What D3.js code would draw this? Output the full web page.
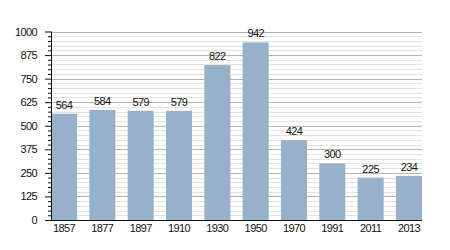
<!DOCTYPE html>
<html>
<head>
<meta charset="utf-8">
<script src="https://cdn.jsdelivr.net/npm/d3@7"></script>
<style>
  body { margin: 0; background: #fff; }
  text { font-family: "Liberation Sans", Arial, sans-serif; font-size: 11px; letter-spacing: -0.6px; fill: #111; }
</style>
</head>
<body>
<svg width="450" height="250"></svg>
<script>
const years = ['1857', '1877', '1897', '1910', '1930', '1950', '1970', '1991', '2011', '2013'];
const population = [564, 584, 579, 579, 822, 942, 424, 300, 225, 234];
const yTicks = [0, 125, 250, 375, 500, 625, 750, 875, 1000];

const svg = d3.select('svg');

const plotLeft = 51;
const plotRight = 422;
const plotTop = 31.5;
const plotBottom = 220;

const xScale = d3.scaleBand()
  .range([plotLeft, plotRight])
  .domain(years)
  .paddingInner(0.32)
  .paddingOuter(0);

const yScale = d3.scaleLinear()
  .range([plotBottom, plotTop])
  .domain([0, 1000]);

const minorTicks = d3.range(0, 1001, 25);

// minor grid
svg.append('g')
  .selectAll('line')
  .data(minorTicks.filter(d => d % 125 !== 0))
  .enter()
  .append('line')
  .attr('x1', plotLeft)
  .attr('x2', plotRight)
  .attr('y1', d => Math.round(yScale(d)) + 0.5)
  .attr('y2', d => Math.round(yScale(d)) + 0.5)
  .attr('stroke', '#e6e2e2')
  .attr('stroke-width', 1);

// major grid
svg.append('g')
  .selectAll('line')
  .data(yTicks.filter(d => d > 0))
  .enter()
  .append('line')
  .attr('x1', plotLeft)
  .attr('x2', plotRight)
  .attr('y1', d => Math.round(yScale(d)) + 0.5)
  .attr('y2', d => Math.round(yScale(d)) + 0.5)
  .attr('stroke', '#b4b4b4')
  .attr('stroke-width', 1);

// bars
const bars = svg.append('g')
  .selectAll('g')
  .data(years.map((y, i) => ({ year: y, value: population[i] })))
  .enter()
  .append('g');

bars.append('rect')
  .attr('x', d => xScale(d.year))
  .attr('y', d => yScale(d.value))
  .attr('width', xScale.bandwidth())
  .attr('height', d => plotBottom - yScale(d.value))
  .attr('fill', '#98b1ca');

bars.append('text')
  .attr('x', d => xScale(d.year) + xScale.bandwidth() / 2)
  .attr('y', d => yScale(d.value) - 5)
  .attr('text-anchor', 'middle')
  .text(d => d.value);

// y axis
const yAxis = svg.append('g')
  .attr('transform', `translate(${plotLeft}, 0)`)
  .call(d3.axisLeft(yScale).tickValues(minorTicks).tickSize(3).tickFormat(''));
yAxis.selectAll('.tick line')
  .attr('x2', d => d % 125 === 0 ? -6 : -3)
  .attr('stroke', '#111');
yAxis.select('.domain').attr('stroke', '#111').attr('d', `M0.5,${plotTop}V${plotBottom}`);

svg.append('g')
  .selectAll('text')
  .data(yTicks)
  .enter()
  .append('text')
  .attr('x', 37)
  .attr('y', d => yScale(d) + 4)
  .attr('text-anchor', 'end')
  .text(d => d);

// x axis
svg.append('line')
  .attr('x1', plotLeft)
  .attr('x2', plotRight)
  .attr('y1', plotBottom + 0.5)
  .attr('y2', plotBottom + 0.5)
  .attr('stroke', '#111')
  .attr('stroke-width', 1.2);

svg.append('g')
  .selectAll('text')
  .data(years)
  .enter()
  .append('text')
  .attr('x', d => xScale(d) + xScale.bandwidth() / 2)
  .attr('y', plotBottom + 12)
  .attr('text-anchor', 'middle')
  .text(d => d);
</script>
</body>
</html>
